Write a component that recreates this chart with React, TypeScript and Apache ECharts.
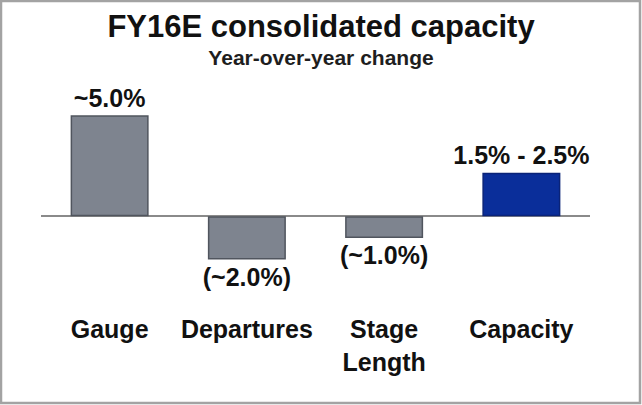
import React, { useEffect, useRef } from "react";
import * as echarts from "echarts";

const categories = ["Gauge", "Departures", "Stage\nLength", "Capacity"];
const values = [4.65, -2.0, -1.0, 2.0];
const valueLabels = ["~5.0%", "(~2.0%)", "(~1.0%)", "1.5% - 2.5%"];
const barColors = ["#7e848f", "#7e848f", "#7e848f", "#0a2e9a"];
const barBorders = ["#50555e", "#50555e", "#50555e", "#0a2378"];

const FONT = '"Liberation Sans", Arial, Helvetica, sans-serif';

export default function App() {
  const ref = useRef<HTMLDivElement>(null);
  useEffect(() => {
    if (!ref.current) return;
    const chart = echarts.init(ref.current, null, { renderer: "svg" });
    chart.setOption({
      animation: false,
      backgroundColor: "#ffffff",
      title: {
        text: "FY16E consolidated capacity",
        subtext: "Year-over-year change",
        left: "center",
        top: 6,
        itemGap: 5,
        textStyle: { fontFamily: FONT, fontSize: 31, fontWeight: "bold", color: "#111111" },
        subtextStyle: { fontFamily: FONT, fontSize: 21, fontWeight: "bold", color: "#1e1e1e" },
      },
      graphic: [
        {
          type: "rect",
          shape: { x: 1, y: 1, width: 639, height: 402 },
          style: { fill: "none", stroke: "#a3a3a3", lineWidth: 2.5 },
          silent: true,
          z: 100,
        },
      ],
      grid: { left: 41, right: 52, top: 86, height: 217 },
      xAxis: {
        type: "category",
        data: categories,
        axisLine: { show: false },
        axisTick: { show: false },
        splitLine: { show: false },
        axisLabel: {
          margin: 9,
          fontFamily: FONT,
          fontSize: 25,
          fontWeight: "bold",
          color: "#111111",
          lineHeight: 33,
          interval: 0,
        },
      },
      yAxis: {
        type: "value",
        min: -4,
        max: 6,
        show: false,
        splitLine: { show: false },
      },
      series: [
        {
          type: "bar",
          barWidth: 78,
          data: values.map((v, i) => ({
            value: v,
            itemStyle: { color: barColors[i], borderColor: barBorders[i], borderWidth: 1.5 },
            label: {
              show: true,
              position: v >= 0 ? "top" : "bottom",
              distance: 5,
              formatter: () => valueLabels[i],
              fontFamily: FONT,
              fontSize: 25,
              fontWeight: "bold",
              color: "#111111",
            },
          })),
          markLine: {
            silent: true,
            symbol: "none",
            label: { show: false },
            lineStyle: { color: "#8a8a8a", width: 2, type: "solid" },
            data: [{ yAxis: 0 }],
            z: 1,
          },
          z: 3,
        },
      ],
    });
    return () => chart.dispose();
  }, []);
  return (
    <div
      ref={ref}
      style={{ position: "fixed", left: 0, top: 0, width: 642, height: 405 }}
    />
  );
}
